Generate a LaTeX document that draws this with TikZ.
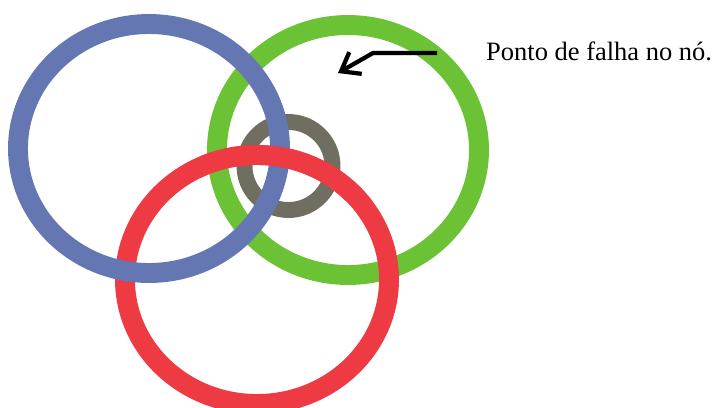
\documentclass[tikz,border=0pt]{standalone}
\usepackage{fontspec}
\setmainfont{Liberation Serif}
\usepackage{tikz}
\usetikzlibrary{arrows.meta}
\definecolor{ringBlue}{HTML}{6577B3}
\definecolor{ringGreen}{HTML}{6BC235}
\definecolor{ringRed}{HTML}{EE3A43}
\definecolor{ringGray}{HTML}{706E61}
\tikzset{
  ring/.style={draw=#1, line width=17pt},
  smallring/.style={draw=#1, line width=13.6pt},
  pointer/.style={
    -{Straight Barb[length=5mm, width=7.5mm]},
    black, line width=3.6pt, line join=miter
  },
  pointershadow/.style={pointer, black!20, opacity=0.6},
  note/.style={font=\fontsize{22.6}{26}\selectfont, anchor=base west, inner sep=0pt}
}
\begin{document}
\begin{tikzpicture}[x=0.03cm, y=-0.03cm]
        \useasboundingbox (0,0) rectangle (714,407);
        % rings, bottom to top
        \draw[ring=ringGreen] (348,150) ellipse [x radius=131, y radius=125];
        \draw[smallring=ringGray] (288.5,166) circle [radius=44];
        \draw[ring=ringRed] (257,279.5) ellipse [x radius=132, y radius=124.5];
        \draw[ring=ringBlue] (149,148.5) ellipse [x radius=131, y radius=124.5];
        % red passes over blue at the top crossing
        \begin{scope}
          \clip (200,100) rectangle (400,200);
          \draw[ring=ringRed] (257,279.5) ellipse [x radius=132, y radius=124.5];
        \end{scope}
        % label and pointer
        \node[note] (falha) at (486,60) {Ponto de falha no nó.};
        \coordinate (tail) at (437,53);
        \coordinate (bend) at (373,53);
        \coordinate (tip) at (338,73);
        \draw[pointershadow, shift={(2,4)}] (tail) -- (bend) -- (tip);
        \draw[pointer] (tail) -- (bend) -- (tip);
      \end{tikzpicture}
\end{document}
